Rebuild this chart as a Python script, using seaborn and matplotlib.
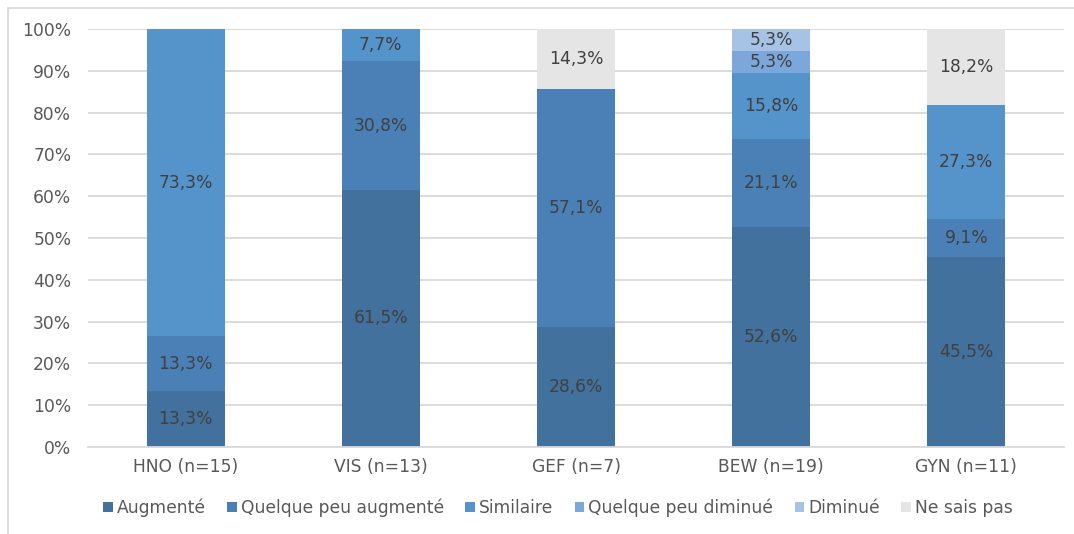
import numpy as np
import pandas as pd
import seaborn as sns
import matplotlib
matplotlib.use("Agg")
import matplotlib.pyplot as plt
from matplotlib.patches import Patch, Rectangle

# Survey groups and answer shares (%)
groups = ["HNO (n=15)", "VIS (n=13)", "GEF (n=7)", "BEW (n=19)", "GYN (n=11)"]
answers = ["Augmenté", "Quelque peu augmenté", "Similaire",
           "Quelque peu diminué", "Diminué", "Ne sais pas"]
augmente = [13.3, 61.5, 28.6, 52.6, 45.5]
quelque_peu_augmente = [13.3, 30.8, 57.1, 21.1, 9.1]
similaire = [73.3, 7.7, 0.0, 15.8, 27.3]
quelque_peu_diminue = [0.0, 0.0, 0.0, 5.3, 0.0]
diminue = [0.0, 0.0, 0.0, 5.3, 0.0]
ne_sais_pas = [0.0, 0.0, 14.3, 0.0, 18.2]

colors = ["#41719C", "#4A80B6", "#5593CB", "#7BA7DA", "#A6C3E6", "#E5E5E5"]

series = [augmente, quelque_peu_augmente, similaire,
          quelque_peu_diminue, diminue, ne_sais_pas]
df = pd.DataFrame(dict(zip(answers, series)), index=groups)
cum = df.cumsum(axis=1)

sns.set_theme(style="white")
plt.rcParams["font.family"] = ["DejaVu Sans"]

FS = 12.3

fig = plt.figure(figsize=(10.74, 5.34), dpi=100)
ax = fig.add_axes([88 / 1074, 1 - 447 / 534, (1064 - 88) / 1074, (447 - 29) / 534])

# Stack by drawing cumulative totals from the top layer down
for i in range(len(answers) - 1, -1, -1):
    d = pd.DataFrame({"group": groups, "value": cum[answers[i]].values})
    sns.barplot(data=d, x="group", y="value", color=colors[i], width=0.4,
                saturation=1, linewidth=0, edgecolor="none", ax=ax, zorder=2)

# Segment labels
for gi, g in enumerate(groups):
    base = 0.0
    for a in answers:
        v = df.loc[g, a]
        if v > 0:
            ax.text(gi, base + v / 2, f"{v:.1f}%".replace(".", ","),
                    ha="center", va="center", fontsize=FS, color="#404040",
                    zorder=3)
        base += v

ax.set_ylim(0, 100)
ax.set_xlim(-0.5, len(groups) - 0.5)
ax.set_yticks(np.arange(0, 101, 10))
ax.set_yticklabels([f"{t}%" for t in range(0, 101, 10)])
ax.yaxis.grid(True, color="#D9D9D9", linewidth=1.3, zorder=0)
ax.set_axisbelow(True)
ax.set_xlabel("")
ax.set_ylabel("")
for s in ["top", "right", "left"]:
    ax.spines[s].set_visible(False)
ax.spines["bottom"].set_color("#D9D9D9")
ax.spines["bottom"].set_linewidth(1.3)
ax.tick_params(axis="both", length=0, labelsize=FS, labelcolor="#595959")
ax.tick_params(axis="y", pad=12)
ax.tick_params(axis="x", pad=8)

handles = [Patch(facecolor=c, edgecolor="none") for c in colors]
fig.legend(handles, answers, loc="center", bbox_to_anchor=(558 / 1074, 1 - 508 / 534),
           ncol=6, frameon=False, handlelength=0.55, handleheight=0.55,
           handletextpad=0.25, columnspacing=1.25,
           prop={"size": FS}, labelcolor="#595959")

# Outer chart frame
fig.patches.append(Rectangle((8 / 1074, -0.1), 1.2, 0.1 + 1 - 7.5 / 534,
                             transform=fig.transFigure, fill=False,
                             edgecolor="#D9D9D9", linewidth=1.3))

fig.savefig("out.png", dpi=100)
